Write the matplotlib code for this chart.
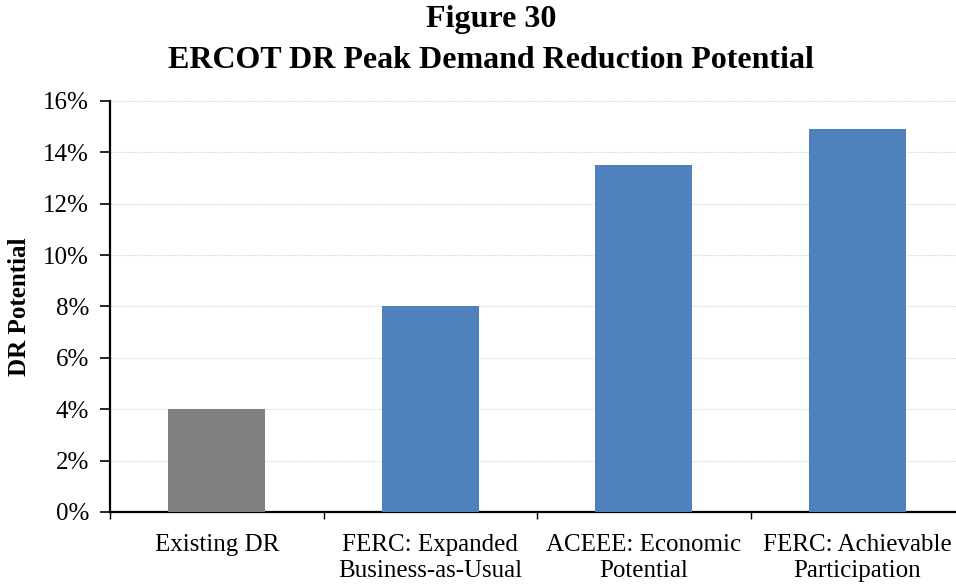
import matplotlib.pyplot as plt
from matplotlib.ticker import FuncFormatter, FixedLocator

categories = ['Existing DR', 'FERC: Expanded\nBusiness-as-Usual',
              'ACEEE: Economic\nPotential', 'FERC: Achievable\nParticipation']
potential = [0.040, 0.080, 0.135, 0.149]
bar_colors = ['#808080', '#4F81BD', '#4F81BD', '#4F81BD']
y_ticks = [0, 0.02, 0.04, 0.06, 0.08, 0.10, 0.12, 0.14, 0.16]

plt.rcParams['font.family'] = ['Liberation Serif', 'DejaVu Serif']

fig = plt.figure(figsize=(9.56, 5.85), dpi=100)
ax = fig.add_axes([0.1151, 0.1248, 0.8933, 0.7026])

x = list(range(len(categories)))
ax.bar(x, potential, width=0.455, color=bar_colors, zorder=3)

ax.set_xlim(-0.5, len(categories) - 0.5)
ax.set_ylim(0, 0.16)
ax.set_yticks(y_ticks)
ax.yaxis.set_major_formatter(FuncFormatter(lambda v, p: '{:.0f}%'.format(v * 100)))
ax.grid(axis='y', color='#E0E0E0', linewidth=0.8, linestyle=(0, (2, 1)), zorder=0)

ax.set_xticks(x)
ax.set_xticklabels(categories, fontsize=18, linespacing=1.2)
ax.xaxis.set_minor_locator(FixedLocator([i - 0.5 for i in range(len(categories) + 1)]))
ax.tick_params(axis='x', which='major', length=0, pad=16)
ax.tick_params(axis='x', which='minor', length=5, width=1, direction='out')
ax.tick_params(axis='y', labelsize=18, length=7, width=1.2, pad=8)

for side in ['top', 'right']:
    ax.spines[side].set_visible(False)
for side in ['left', 'bottom']:
    ax.spines[side].set_linewidth(1.6)

fig.text(20 / 956, 1 - 307 / 585, 'DR Potential', rotation=90, fontsize=18,
         fontweight='bold', ha='center', va='center')
fig.text(491 / 956, 1 - 20 / 585, 'Figure 30', fontsize=23, fontweight='bold',
         ha='center', va='center')
fig.text(491 / 956, 1 - 60 / 585, 'ERCOT DR Peak Demand Reduction Potential',
         fontsize=23, fontweight='bold', ha='center', va='center')

fig.savefig('out.png', dpi=100)
